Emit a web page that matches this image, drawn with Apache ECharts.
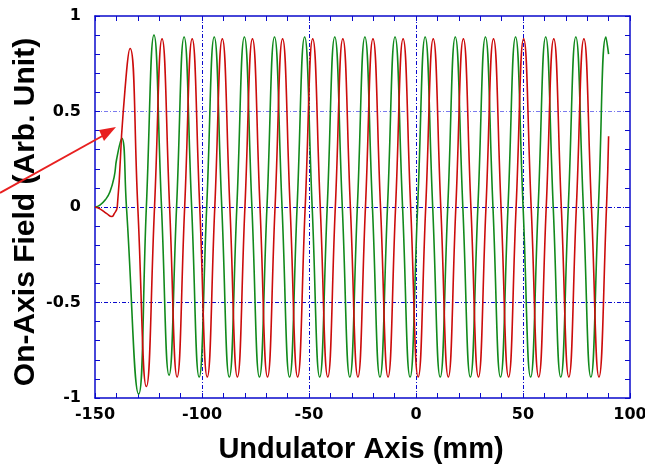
<!DOCTYPE html>
<html>
<head>
<meta charset="utf-8">
<script src="https://cdn.jsdelivr.net/npm/echarts@6/dist/echarts.min.js"></script>
<style>html,body{margin:0;padding:0;background:#fff;}#c{width:645px;height:464px;}</style>
</head>
<body>
<div id="c"></div>
<script>
// Undulator position (mm) and on-axis field (arb. unit)
const greenX = [-150, -147.7, -145, -143, -141, -139.9, -137.5, -135.3, -129.6, -126.0,
  -122.44, -118.92, -115.40, -111.88, -108.36, -104.84, -101.32, -97.80, -94.28, -90.76,
  -87.24, -83.72, -80.20, -76.68, -73.16, -69.64, -66.12, -62.60, -59.08, -55.56,
  -52.04, -48.52, -45.00, -41.48, -37.96, -34.44, -30.92, -27.40, -23.88, -20.36,
  -16.84, -13.32, -9.80, -6.28, -2.76, 0.76, 4.28, 7.80, 11.32, 14.84,
  18.36, 21.88, 25.40, 28.92, 32.44, 35.96, 39.48, 43.00, 46.52, 50.04,
  53.56, 57.08, 60.60, 64.12, 67.64, 71.16, 74.68, 78.20, 81.72, 85.24,
  88.76, 90.0];
const greenY = [0, 0.01, 0.04, 0.08, 0.16, 0.25, 0.36, 0, -0.98, 0,
  0.90, 0, -0.88, 0, 0.89, 0, -0.89, 0, 0.89, 0,
  -0.89, 0, 0.89, 0, -0.89, 0, 0.89, 0, -0.89, 0,
  0.89, 0, -0.89, 0, 0.89, 0, -0.89, 0, 0.89, 0,
  -0.89, 0, 0.89, 0, -0.89, 0, 0.89, 0, -0.89, 0,
  0.89, 0, -0.89, 0, 0.89, 0, -0.89, 0, 0.89, 0,
  -0.89, 0, 0.89, 0, -0.89, 0, 0.89, 0, -0.89, 0,
  0.89, 0.80];

const redX = [-150, -147.7, -144.5, -142.2, -141, -139.6, -136.8, -133.6, -130.0, -126.0,
  -122.18, -118.66, -115.14, -111.62, -108.10, -104.58, -101.06, -97.54, -94.02, -90.50,
  -86.98, -83.46, -79.94, -76.42, -72.90, -69.38, -65.86, -62.34, -58.82, -55.30,
  -51.78, -48.26, -44.74, -41.22, -37.70, -34.18, -30.66, -27.14, -23.62, -20.10,
  -16.58, -13.06, -9.54, -6.02, -2.50, 1.02, 4.54, 8.06, 11.58, 15.10,
  18.62, 22.14, 25.66, 29.18, 32.70, 36.22, 39.74, 43.26, 46.78, 50.30,
  53.82, 57.34, 60.86, 64.38, 67.90, 71.42, 74.94, 78.46, 81.98, 85.50,
  89.02, 90.0];
const redY = [0, -0.01, -0.035, -0.05, -0.035, 0, 0.50, 0.83, 0, -0.94,
  0, 0.88, 0, -0.89, 0, 0.88, 0, -0.89, 0, 0.88,
  0, -0.89, 0, 0.88, 0, -0.89, 0, 0.88, 0, -0.89,
  0, 0.88, 0, -0.89, 0, 0.88, 0, -0.89, 0, 0.88,
  0, -0.89, 0, 0.88, 0, -0.89, 0, 0.88, 0, -0.89,
  0, 0.88, 0, -0.89, 0, 0.88, 0, -0.89, 0, 0.88,
  0, -0.89, 0, 0.88, 0, -0.89, 0, 0.88, 0, -0.89,
  0, 0.37];

const xTicks = { min: -150, max: 100, step: 50 };
const yTicks = { min: -1, max: 1, step: 0.5 };
const xTitle = 'Undulator Axis (mm)';
const yTitle = 'On-Axis Field (Arb. Unit)';

const pair = (xs, ys) => xs.map((x, i) => [x, ys[i]]);

const BLUE = '#0a0acc';
const labelStyle = { fontFamily: 'DejaVu Sans', fontWeight: 'bold', fontSize: 16, color: '#000' };
const dashDot = [4, 2, 1, 2];

function xAxisDef(pos, showLabels) {
  return {
    type: 'value', position: pos, min: xTicks.min, max: xTicks.max, interval: xTicks.step,
    axisLine: { show: true, onZero: false, lineStyle: { color: BLUE, width: 1.5 } },
    axisTick: { show: true, inside: true, length: 5, lineStyle: { color: BLUE } },
    minorTick: { show: true, splitNumber: 5, length: 5, lineStyle: { color: BLUE } },
    axisLabel: Object.assign({ show: showLabels, margin: 9 }, labelStyle),
    splitLine: { show: showLabels, showMinLine: false, showMaxLine: false,
      lineStyle: { color: BLUE, width: 1, type: dashDot } },
    minorSplitLine: { show: false }
  };
}
function yAxisDef(pos, showLabels) {
  return {
    type: 'value', position: pos, min: yTicks.min, max: yTicks.max, interval: yTicks.step,
    axisLine: { show: true, onZero: false, lineStyle: { color: BLUE, width: 1.5 } },
    axisTick: { show: true, inside: true, length: 5, lineStyle: { color: BLUE } },
    minorTick: { show: true, splitNumber: 5, length: 5, lineStyle: { color: BLUE } },
    axisLabel: Object.assign({ show: showLabels, margin: 14 }, labelStyle),
    splitLine: { show: showLabels, showMinLine: false, showMaxLine: false,
      lineStyle: { color: [BLUE, BLUE, '#7a7aee', BLUE, BLUE], width: 1, type: dashDot } },
    minorSplitLine: { show: false }
  };
}

const chart = echarts.init(document.getElementById('c'), null, { renderer: 'canvas' });
chart.setOption({
  animation: false,
  backgroundColor: '#fff',
  grid: { left: 95, right: 15, top: 16, bottom: 66, containLabel: false, outerBoundsMode: 'none' },
  xAxis: [xAxisDef('bottom', true), xAxisDef('top', false)],
  yAxis: [yAxisDef('left', true), yAxisDef('right', false)],
  series: [
    { type: 'line', name: 'green', data: pair(greenX, greenY), smooth: true, showSymbol: false,
      lineStyle: { color: '#118a1c', width: 1.6 }, z: 3 },
    { type: 'line', name: 'red', data: pair(redX, redY), smooth: true, showSymbol: false,
      lineStyle: { color: '#cc0c0c', width: 1.6 }, z: 4 }
  ],
  graphic: [
    { type: 'text', x: 361, y: 450, z: 10,
      style: { text: xTitle, fill: '#000', font: 'bold 29px "Liberation Sans"', textAlign: 'center', textVerticalAlign: 'middle' } },
    { type: 'text', x: 26, y: 212, rotation: Math.PI / 2, z: 10,
      style: { text: yTitle, fill: '#000', font: 'bold 30px "Liberation Sans"', textAlign: 'center', textVerticalAlign: 'middle' } },
    { type: 'line', z: 20, shape: { x1: 0, y1: 193, x2: 106, y2: 134 },
      style: { stroke: '#e82020', lineWidth: 2 } },
    { type: 'polygon', z: 20, shape: { points: [[116, 127], [99, 130], [104, 141]] },
      style: { fill: '#e82020' } }
  ]
});
</script>
</body>
</html>
